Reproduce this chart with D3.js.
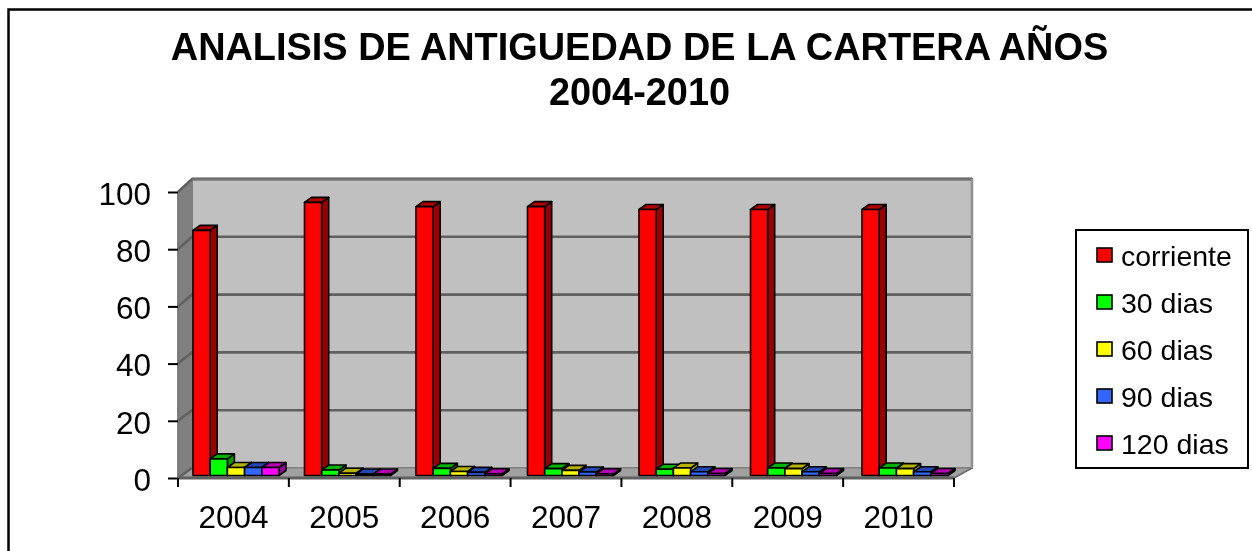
<!DOCTYPE html>
<html><head><meta charset="utf-8">
<script src="https://cdn.jsdelivr.net/npm/d3@7"></script>
<style>html,body{margin:0;padding:0;background:#fff;overflow:hidden}svg{display:block;filter:blur(.5px)}text{font-family:"Liberation Sans",Arial,sans-serif;fill:#000}</style>
</head><body><svg id="c" width="1252" height="551"></svg>
<script>
const years=["2004","2005","2006","2007","2008","2009","2010"];
const seriesNames=["corriente","30 dias","60 dias","90 dias","120 dias"];
const corriente=[85.7,95.5,94,94,93,93,93];
const d30=[5.8,1.9,2.5,2.4,2.2,2.6,2.6];
const d60=[2.8,0.8,1.4,1.8,2.6,2.4,2.4];
const d90=[2.8,0.5,1.1,1.2,1.3,1.3,1.3];
const d120=[2.8,0.5,0.6,0.6,0.7,0.7,0.7];
const values=[corriente,d30,d60,d90,d120];
const colors=["#ff0000","#00ff00","#ffff00","#3366ff","#ff00ff"];
const yTicks=[0,20,40,60,80,100];
const titleLines=["ANALISIS DE ANTIGUEDAD DE LA CARTERA AÑOS","2004-2010"];

const svg=d3.select("#c");
svg.append("rect").attr("x",8.5).attr("y",9.5).attr("width",1300).attr("height",600).attr("fill","#fff").attr("stroke","#000").attr("stroke-width",2.5);
svg.selectAll("text.title").data(titleLines).join("text").attr("class","title")
 .attr("x",639.5).attr("y",(d,i)=>60+i*45).attr("text-anchor","middle")
 .attr("font-size",37.9).attr("font-weight","bold").text(d=>d);

const x=d3.scaleBand().domain(years).range([178,954]);
const xBar=d3.scaleBand().domain(years).range([193,973.5]);
const yFront=d3.scaleLinear().domain([0,100]).range([478,192]);
const yBack=d3.scaleLinear().domain([0,100]).range([468,179]);
const yBar=d3.scaleLinear().domain([0,100]).range([475.5,189.5]);
const sx=d3.scaleBand().domain(seriesNames).range([0,86]);
const backL=192,backR=972,frontL=178,frontR=954;
const poly=(pts,fill,stroke,sw)=>svg.append("polygon").attr("points",pts.map(p=>p.join(",")).join(" ")).attr("fill",fill).attr("stroke",stroke||"none").attr("stroke-width",sw||0);
poly([[backL,yBack(100)],[backR,yBack(100)],[backR,yBack(0)],[backL,yBack(0)]],"#c0c0c0","#808080",2);
poly([[frontL,yFront(100)],[backL,yBack(100)],[backL,yBack(0)],[frontL,yFront(0)]],"#808080","#808080",1);
poly([[frontL,yFront(0)],[backL,yBack(0)],[backR,yBack(0)],[frontR,yFront(0)]],"#a0a0a0","#808080",1);
svg.append("line").attr("x1",frontL).attr("x2",frontR).attr("y1",yFront(0)).attr("y2",yFront(0)).attr("stroke","#606060").attr("stroke-width",3);
svg.append("line").attr("x1",frontR).attr("x2",backR).attr("y1",yFront(0)).attr("y2",yBack(0)).attr("stroke","#707070").attr("stroke-width",2);
const gl=svg.append("g").attr("fill","none").attr("stroke","#606060").attr("stroke-width",2.6);
gl.selectAll("path").data(yTicks).join("path").attr("d",t=>`M${frontL},${yFront(t)}L${backL},${yBack(t)}L${t===0?backL:backR},${yBack(t)}`);
svg.append("line").attr("x1",backL).attr("x2",backR).attr("y1",yBack(100)).attr("y2",yBack(100)).attr("stroke","#707070").attr("stroke-width",3);
svg.append("line").attr("x1",backR).attr("x2",backR).attr("y1",yBack(100)).attr("y2",yBack(0)).attr("stroke","#909090").attr("stroke-width",2.5);
const yAxis=d3.axisLeft(yFront).tickValues(yTicks).tickSize(10).tickPadding(17);
const gy=svg.append("g").attr("transform",`translate(${frontL},0)`).call(yAxis);
gy.select(".domain").attr("stroke","#707070").attr("stroke-width",1.5).attr("d",`M0,${yFront(100)}V${yFront(0)}`);
gy.selectAll("line").attr("stroke","#000").attr("stroke-width",2);
gy.selectAll("text").attr("font-size",31.5).attr("font-family","Liberation Sans").attr("dy",".39em");
const xAxis=d3.axisBottom(x).tickSize(0).tickPadding(28);
const gx=svg.append("g").attr("transform",`translate(0,${yFront(0)})`).call(xAxis);
gx.select(".domain").remove();
gx.selectAll("text").attr("font-size",31.5).attr("font-family","Liberation Sans").attr("dy","0.71em");
const bounds=[...years.map(y=>x(y)),frontR];
svg.selectAll("line.xt").data(bounds).join("line").attr("class","xt").attr("x1",d=>d).attr("x2",d=>d).attr("y1",yFront(0)).attr("y2",yFront(0)+9).attr("stroke","#000").attr("stroke-width",2);
const dx=7,dy=5;
values.forEach((vals,s)=>{
 const c=d3.color(colors[s]);
 const g=svg.append("g");
 years.forEach((yr,i)=>{
  const x0=xBar(yr)+sx(seriesNames[s]),w=sx.bandwidth(),yt=yBar(vals[i]),yb=yBar(0);
  const bg=g.append("g").attr("stroke","#000").attr("stroke-width",1.6).attr("stroke-linejoin","round");
  bg.append("polygon").attr("points",[[x0+w,yt],[x0+w+dx,yt-dy],[x0+w+dx,yb-dy],[x0+w,yb]].join(" ")).attr("fill",c.darker(1.4));
  bg.append("polygon").attr("points",[[x0,yt],[x0+dx,yt-dy],[x0+w+dx,yt-dy],[x0+w,yt]].join(" ")).attr("fill",c.darker(1.0));
  bg.append("rect").attr("x",x0).attr("y",yt).attr("width",w).attr("height",yb-yt).attr("fill",c.formatHex());
 });
});
const leg=svg.append("g");
leg.append("rect").attr("x",1076).attr("y",230).attr("width",172).attr("height",238).attr("fill","#fff").attr("stroke","#000").attr("stroke-width",2);
const ly=d3.scalePoint().domain(seriesNames).range([255,443]);
const li=leg.selectAll("g").data(seriesNames).join("g").attr("transform",d=>`translate(0,${ly(d)})`);
li.append("rect").attr("x",1097).attr("y",-7).attr("width",15).attr("height",14).attr("fill",(d,i)=>colors[i]).attr("stroke","#000").attr("stroke-width",1.6);
li.append("text").attr("x",1121).attr("y",11).attr("font-size",28.5).text(d=>d);
</script></body></html>
